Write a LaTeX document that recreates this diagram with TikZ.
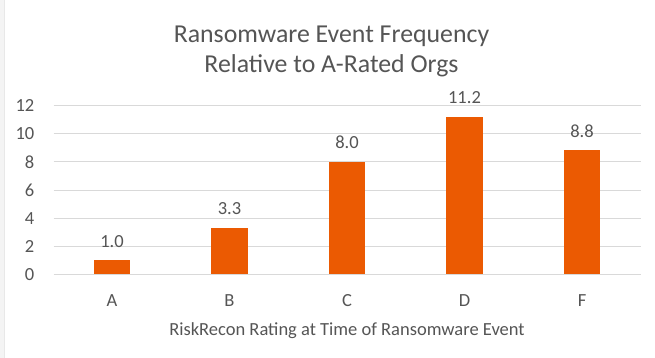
\documentclass[tikz,border=0pt]{standalone}
\usepackage{fontspec}
\setmainfont{Carlito}
\definecolor{barorange}{RGB}{235,90,2}
\definecolor{txtgray}{RGB}{85,85,85}
\definecolor{gridgray}{RGB}{217,217,217}
\definecolor{edgegray}{RGB}{232,232,232}
\tikzset{
  chartbar/.style={fill=barorange, draw=none, minimum width=36.5pt, inner sep=0pt, anchor=south},
  vallabel/.style={text=txtgray, font=\fontsize{18.5}{20}\selectfont, anchor=base, inner sep=0pt},
  ticklabel/.style={text=txtgray, font=\fontsize{18.5}{20}\selectfont, anchor=east, inner sep=0pt},
  catlabel/.style={text=txtgray, font=\fontsize{18.5}{20}\selectfont, anchor=base, inner sep=0pt},
  titletext/.style={text=txtgray, font=\fontsize{25.8}{30}\selectfont, align=center, inner sep=0pt},
  gridline/.style={draw=gridgray, line width=1pt},
}
\begin{document}
\begin{tikzpicture}[x=1pt, y=-1pt]
\useasboundingbox (0,0) rectangle (655,358);
\fill[white] (0,0) rectangle (655,358);
\fill[edgegray!50] (0,0) rectangle (4,358);
\draw[edgegray, line width=0.8pt] (4.5,0) -- (4.5,358);
% gridlines and tick labels
\foreach \v/\n in {0/g0,2/g2,4/g4,6/g6,8/g8,10/g10,12/g12} {
  \coordinate (\n l) at (53.5,{274.3-14.05*\v});
  \coordinate (\n r) at (641,{274.3-14.05*\v});
  \draw[gridline] (\n l) -- (\n r);
  \node[ticklabel] (t\n) at (34.5,{274.3-14.05*\v}) {\v};
}
% title
\node[titletext, anchor=base] (title1) at (331.5,43) {Ransomware Event Frequency};
\node[titletext, anchor=base] (title2) at (331.5,73) {Relative to A-Rated Orgs};
% bars
\foreach \c/\x/\v/\s in {A/112/1.0/1.0, B/229.5/3.3/3.3, C/347/8.0/8.0, D/464.5/11.2/11.2, F/582/8.8/8.8} {
  \node[chartbar, minimum height={14.05*\v*1pt}] (bar\c) at (\x,274.3) {};
  \node[vallabel] (val\c) at ([yshift=12.7pt]bar\c.north) {\s};
  \node[catlabel] (cat\c) at (\x,306) {\c};
}
% axis title
\node[catlabel] (xtitle) at (347,335) {RiskRecon Rating at Time of Ransomware Event};
\end{tikzpicture}
\end{document}
